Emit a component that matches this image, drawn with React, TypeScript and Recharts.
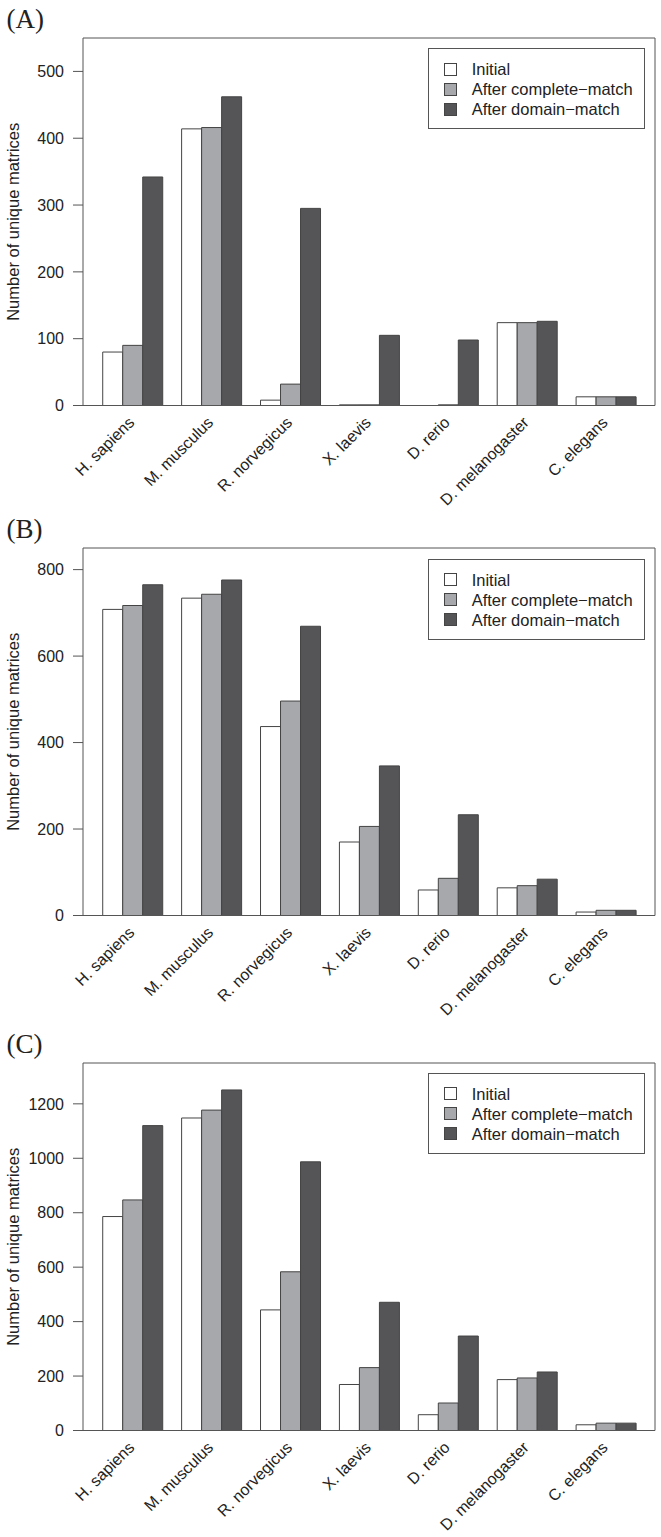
import React from 'react';
import { BarChart, Bar, XAxis, YAxis, Legend, CartesianGrid } from 'recharts';

// categories
const species = [
  'H. sapiens',
  'M. musculus',
  'R. norvegicus',
  'X. laevis',
  'D. rerio',
  'D. melanogaster',
  'C. elegans',
];

// panel (A)
const initialA = [80, 414, 8, 1, 0, 124, 13];
const completeA = [90, 416, 32, 1, 1, 124, 13];
const domainA = [342, 462, 295, 105, 98, 126, 13];
const ticksA = [0, 100, 200, 300, 400, 500];

// panel (B)
const initialB = [708, 734, 437, 170, 59, 64, 8];
const completeB = [717, 743, 496, 206, 86, 69, 12];
const domainB = [765, 776, 669, 346, 233, 84, 12];
const ticksB = [0, 200, 400, 600, 800];

// panel (C)
const initialC = [786, 1148, 443, 169, 58, 187, 21];
const completeC = [847, 1177, 583, 231, 101, 193, 27];
const domainC = [1120, 1251, 987, 471, 347, 215, 27];
const ticksC = [0, 200, 400, 600, 800, 1000, 1200];

const seriesNames = ['Initial', 'After complete\u2212match', 'After domain\u2212match'];

const FONT = '"Liberation Sans", Arial, Helvetica, sans-serif';
const INK = '#222';
const FRAME = '#555';
const BAR_STROKE = '#444';
const fills = ['#ffffff', '#a7a8ab', '#555558'];

const W = 661;
const H = 510;
const PLOT_TOP = 38;
const PLOT_H = 367.5;
const AXIS_W = 83;
const RIGHT = 6;
// 7 groups of 3 bars + 1 bar space between/around groups -> 29 bar widths
const unit = (W - AXIS_W - RIGHT) / 29;

// species names, rotated 45deg, right end just below the group centre
const SpeciesTick = (props: any) => {
  const { x, y, payload } = props;
  return (
    <g transform={`translate(${Number(x) + 3},${Number(y) + 18})`}>
      <text
        x={0}
        y={0}
        transform="rotate(-45)"
        textAnchor="end"
        fontSize={16}
        fontFamily={FONT}
        fill={INK}
      >
        {payload.value}
      </text>
    </g>
  );
};

const YLabel = (props: any) => {
  const vb = props.viewBox || {};
  const cy = (vb.y ?? PLOT_TOP) + (vb.height ?? PLOT_H) / 2;
  const cx = 18.5;
  return (
    <text
      x={cx}
      y={cy}
      transform={`rotate(-90, ${cx}, ${cy})`}
      textAnchor="middle"
      fontSize={16.5}
      fontFamily={FONT}
      fill={INK}
    >
      Number of unique matrices
    </text>
  );
};

const LegendBox = (props: any) => {
  const payload = [...(props.payload || [])].sort(
    (a: any, b: any) => seriesNames.indexOf(a.value) - seriesNames.indexOf(b.value)
  );
  return (
    <div
      style={{
        boxSizing: 'border-box',
        width: 217,
        height: 81,
        border: `1px solid ${FRAME}`,
        background: '#fff',
        paddingTop: 10,
        fontFamily: FONT,
        fontSize: 16.5,
        color: INK,
      }}
    >
      {payload.map((p: any) => (
        <div key={p.value} style={{ display: 'flex', alignItems: 'center', height: 20, lineHeight: '20px', whiteSpace: 'nowrap' }}>
          <span
            style={{
              display: 'inline-block',
              boxSizing: 'border-box',
              width: 13,
              height: 13,
              marginLeft: 15,
              marginRight: 15,
              border: `1px solid ${BAR_STROKE}`,
              background: p.color,
            }}
          />
          <span>{p.value}</span>
        </div>
      ))}
    </div>
  );
};

interface PanelProps {
  tag: string;
  top: number;
  initial: number[];
  complete: number[];
  domain: number[];
  ticks: number[];
  yMax: number;
}

const Panel: React.FC<PanelProps> = ({ tag, top, initial, complete, domain, ticks, yMax }) => {
  const data = species.map((name, i) => ({
    name,
    initial: initial[i],
    complete: complete[i],
    domain: domain[i],
  }));

  return (
    <div style={{ position: 'absolute', left: 0, top, width: W, height: H }}>
      <div
        style={{
          position: 'absolute',
          left: 6.5,
          top: 6,
          fontFamily: '"Liberation Serif", "Times New Roman", serif',
          fontSize: 27,
          lineHeight: '27px',
          color: INK,
        }}
      >
        {tag}
      </div>
      <BarChart
        width={W}
        height={H}
        data={data}
        margin={{ top: PLOT_TOP, right: RIGHT, left: 0, bottom: 0 }}
        barCategoryGap="12.5%"
        barGap={0}
      >
        {/* top and right edges of the plot frame */}
        <CartesianGrid
          stroke={FRAME}
          horizontalCoordinatesGenerator={({ offset }: any) => [offset.top]}
          verticalCoordinatesGenerator={({ offset }: any) => [offset.left + offset.width]}
        />
        <XAxis
          dataKey="name"
          height={H - PLOT_TOP - PLOT_H}
          interval={0}
          tickLine={false}
          tickSize={0}
          tickMargin={0}
          padding={{ left: unit / 2, right: unit / 2 }}
          axisLine={{ stroke: FRAME }}
          tick={<SpeciesTick />}
        />
        <YAxis
          width={AXIS_W}
          domain={[0, yMax]}
          ticks={ticks}
          allowDataOverflow
          tickSize={10}
          tickMargin={9}
          axisLine={{ stroke: FRAME }}
          tickLine={{ stroke: FRAME }}
          tick={{ fill: INK, fontSize: 16, fontFamily: FONT }}
          label={<YLabel />}
        />
        <Legend
          layout="vertical"
          verticalAlign="middle"
          align="center"
          content={<LegendBox />}
          wrapperStyle={{ position: 'absolute', top: PLOT_TOP + 10.3, left: 427.7, width: 217, height: 81 }}
        />
        <Bar dataKey="initial" name={seriesNames[0]} fill={fills[0]} stroke={BAR_STROKE} strokeWidth={1} isAnimationActive={false} />
        <Bar dataKey="complete" name={seriesNames[1]} fill={fills[1]} stroke={BAR_STROKE} strokeWidth={1} isAnimationActive={false} />
        <Bar dataKey="domain" name={seriesNames[2]} fill={fills[2]} stroke={BAR_STROKE} strokeWidth={1} isAnimationActive={false} />
      </BarChart>
    </div>
  );
};

export default function App() {
  return (
    <div style={{ position: 'absolute', left: 0, top: 0, width: W, height: 1537, background: '#fff' }}>
      <Panel tag="(A)" top={0} initial={initialA} complete={completeA} domain={domainA} ticks={ticksA} yMax={550} />
      <Panel tag="(B)" top={510.3} initial={initialB} complete={completeB} domain={domainB} ticks={ticksB} yMax={850} />
      <Panel tag="(C)" top={1024.7} initial={initialC} complete={completeC} domain={domainC} ticks={ticksC} yMax={1350} />
    </div>
  );
}
